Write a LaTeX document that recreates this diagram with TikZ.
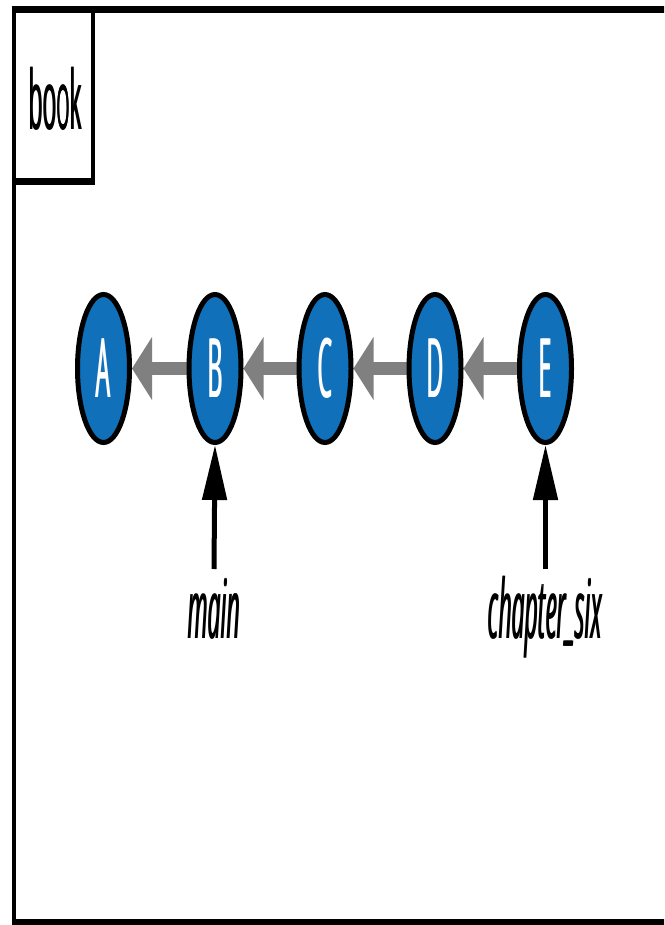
\documentclass[tikz,border=0pt]{standalone}
\usepackage{fontspec}
\setmainfont{Open Sans}
\usetikzlibrary{arrows.meta,shapes.geometric,backgrounds}
\definecolor{commitblue}{RGB}{16,112,186}
\definecolor{arrowgray}{RGB}{128,128,128}
\newcommand{\sqz}[1]{\rlap{\scalebox{0.28}[1]{#1}}\hspace{0.9pt}\scalebox{0.28}[1]{#1}}
\newcommand{\figfont}{\fontsize{82}{98}\selectfont}
\begin{document}
\begin{tikzpicture}[x=1pt,y=-1pt,
  commit/.style={ellipse, draw=black, line width=5pt, fill=commitblue,
    minimum width=52pt, minimum height=148pt, inner sep=0pt, text=white, font=\figfont},
  parentarrow/.style={draw=arrowgray, line width=13pt, -{Triangle[length=20pt,width=62pt]}},
  refarrow/.style={draw=black, line width=5pt, -{Triangle[length=55pt,width=24pt]}},
  reflabel/.style={anchor=base, inner sep=0pt, font=\figfont\itshape},
  frameline/.style={draw=black, line cap=butt}]
\useasboundingbox (0,0) rectangle (664,925);
\clip (0,0) rectangle (664,925);
% outer frame
\draw[frameline, line width=6.5pt] (11.5,9.5) -- (680,9.5);
\draw[frameline, line width=6pt] (11.5,922) -- (680,922);
\draw[frameline, line width=4pt] (13.5,6.25) -- (13.5,925);
% book tab
\draw[frameline, line width=6.5pt] (11.5,181.5) -- (95,181.5);
\draw[frameline, line width=3.5pt] (93,9) -- (93,184.75);
\node[anchor=base, inner sep=0pt, font=\figfont] (book) at (55.5,130) {\sqz{book}};
% commits
\node[commit] (A) at (103.5,368.5) {\sqz{A}};
\node[commit] (B) at (215,368.5) {\sqz{B}};
\node[commit] (C) at (325,368.5) {\sqz{C}};
\node[commit] (D) at (435,368.5) {\sqz{D}};
\node[commit] (E) at (545.5,368.5) {\sqz{E}};
\begin{scope}[on background layer]
\draw[parentarrow] (B.center) -- (A.east);
\draw[parentarrow] (C.center) -- (B.east);
\draw[parentarrow] (D.center) -- (C.east);
\draw[parentarrow] (E.center) -- (D.east);
\end{scope}
% refs
\node[reflabel] (mainlbl) at (214,638) {\sqz{main}};
\node[reflabel] (chlbl) at (545,638) {\sqz{chapter\raisebox{5pt}{\_}six}};
\coordinate (mtail) at (214,569);
\coordinate (ctail) at (545.5,569);
\draw[refarrow] (mtail) -- (B.south);
\draw[refarrow] (ctail) -- (E.south);
\end{tikzpicture}
\end{document}
